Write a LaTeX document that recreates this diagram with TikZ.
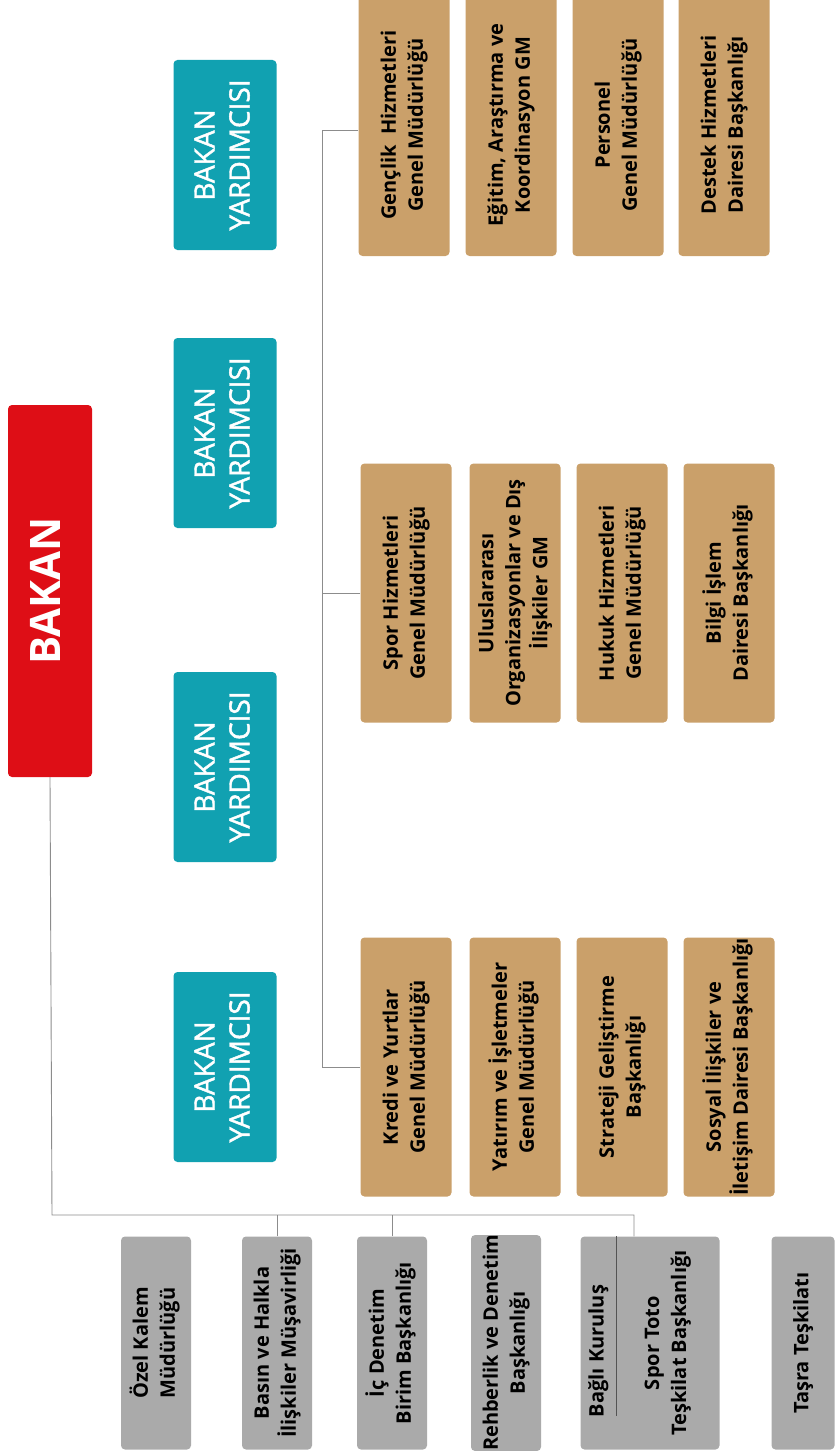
\documentclass[tikz,border=0pt]{standalone}
\usepackage{fontspec}
\setmainfont{Open Sans}
\newfontfamily\yrdfont[FakeBold=1.6]{Open Sans}
\usepackage{graphicx}

\definecolor{bakanred}{RGB}{222,14,22}
\definecolor{yrdteal}{RGB}{17,161,177}
\definecolor{gmbrown}{RGB}{202,160,106}
\definecolor{birimgray}{RGB}{170,170,170}
\definecolor{linegray}{RGB}{140,140,140}

\newcommand{\vtxt}[1]{\rotatebox{90}{\begin{tabular}{@{}c@{}}#1\end{tabular}}}

\begin{document}
\begin{tikzpicture}
	[x=1pt, y=-1pt,
	 box/.style={rectangle, rounded corners=4pt, inner sep=0pt},
	 bakanbox/.style={box, fill=bakanred, text=white, font=\fontsize{42}{50}\selectfont\bfseries,
		minimum width=84pt, minimum height=372pt},
	 yrdbox/.style={box, fill=yrdteal, text=white, font=\yrdfont\fontsize{28}{35}\selectfont,
		minimum width=103pt, minimum height=190pt},
	 gmbox/.style={box, fill=gmbrown, font=\fontsize{20}{27}\selectfont\bfseries,
		minimum width=91pt, minimum height=259pt},
	 birimbox/.style={box, fill=birimgray, font=\fontsize{20}{27}\selectfont\bfseries,
		minimum width=70pt, minimum height=213pt},
	 lbl/.style={inner sep=0pt, font=\fontsize{20}{27}\selectfont\bfseries},
	 conn/.style={draw=linegray, line width=0.9pt}]
	\useasboundingbox (0,0) rectangle (835,1453);

	% bakan
	\node[bakanbox] (bakan) at (50,591) {\vtxt{BAKAN}};

	% bakan yardimcilari
	\foreach \y [count=\i] in {1067,767,433,155}
		\node[yrdbox] (yrd\i) at (225,\y) {\vtxt{BAKAN\\YARDIMCISI}};

	% genel mudurlukler
	\node[gmbox] (kredi) at (406,1067) {\vtxt{Kredi ve Yurtlar\\Genel Müdürlüğü}};
	\node[gmbox] (yatirim) at (515,1067) {\vtxt{Yatırım ve İşletmeler\\Genel Müdürlüğü}};
	\node[gmbox] (strateji) at (622,1067) {\vtxt{Strateji Geliştirme\\Başkanlığı}};
	\node[gmbox] (sosyal) at (729,1067) {\vtxt{Sosyal İlişkiler ve\\İletişim Dairesi Başkanlığı}};

	\node[gmbox] (spor) at (406,593) {\vtxt{Spor Hizmetleri\\Genel Müdürlüğü}};
	\node[gmbox] (uluslar) at (515,593) {\vtxt{Uluslararası\\Organizasyonlar ve Dış\\İlişkiler GM}};
	\node[gmbox] (hukuk) at (622,593) {\vtxt{Hukuk Hizmetleri\\Genel Müdürlüğü}};
	\node[gmbox] (bilgi) at (729,593) {\vtxt{Bilgi İşlem\\Dairesi Başkanlığı}};

	\node[gmbox, minimum height=262pt] (genclik) at (404,125) {\vtxt{Gençlik~~Hizmetleri\\Genel Müdürlüğü}};
	\node[gmbox, minimum height=262pt] (egitim) at (511,125) {\vtxt{Eğitim, Araştırma ve\\Koordinasyon GM}};
	\node[gmbox, minimum height=262pt] (personel) at (618,125) {\vtxt{Personel\\Genel Müdürlüğü}};
	\node[gmbox, minimum height=262pt] (destek) at (724,125) {\vtxt{Destek Hizmetleri\\Dairesi Başkanlığı}};

	% birimler
	\node[birimbox] (ozel) at (156,1343) {\vtxt{Özel Kalem\\Müdürlüğü}};
	\node[birimbox] (basin) at (277,1343) {\vtxt{Basın ve Halkla\\İlişkiler Müşavirliği}};
	\node[birimbox] (icdenetim) at (392,1343) {\vtxt{İç Denetim\\Birim Başkanlığı}};
	\node[birimbox] (rehberlik) at (506,1343) {\vtxt{Rehberlik ve Denetim\\Başkanlığı}};
	\node[birimbox, minimum width=139pt] (bagli) at (650,1343) {};
	\node[lbl] (bagliK) at ([xshift=18pt, yshift=-8pt]bagli.west) {\vtxt{Bağlı Kuruluş}};
	\node[lbl] (sportoto) at ([xshift=87pt]bagli.west) {\vtxt{Spor Toto\\Teşkilat Başkanlığı}};
	\node[birimbox, minimum width=63pt] (tasra) at (803,1343) {\vtxt{Taşra Teşkilatı}};
	\draw[linegray!60!black, line width=0.6pt] ([xshift=36pt]bagli.north west) -- ([xshift=36pt, yshift=-180pt]bagli.north west);

	% baglantilar
	\coordinate (bus) at (52,1215);
	\coordinate (bdrop) at (634,1215);
	\draw[conn] (bakan.south) -- (bus) -- (bdrop) -- (bdrop |- bagli.north);
	\draw[conn] (basin.north) -- (basin.north |- bus);
	\draw[conn] (icdenetim.north) -- (icdenetim.north |- bus);

	\coordinate (vtop) at (322,130);
	\coordinate (vbot) at (322,1067);
	\draw[conn] (genclik.west |- vtop) -- (vtop) -- (vbot) -- (kredi.west);
	\draw[conn] (spor.west) -- (spor.west -| vtop);
\end{tikzpicture}
\end{document}
